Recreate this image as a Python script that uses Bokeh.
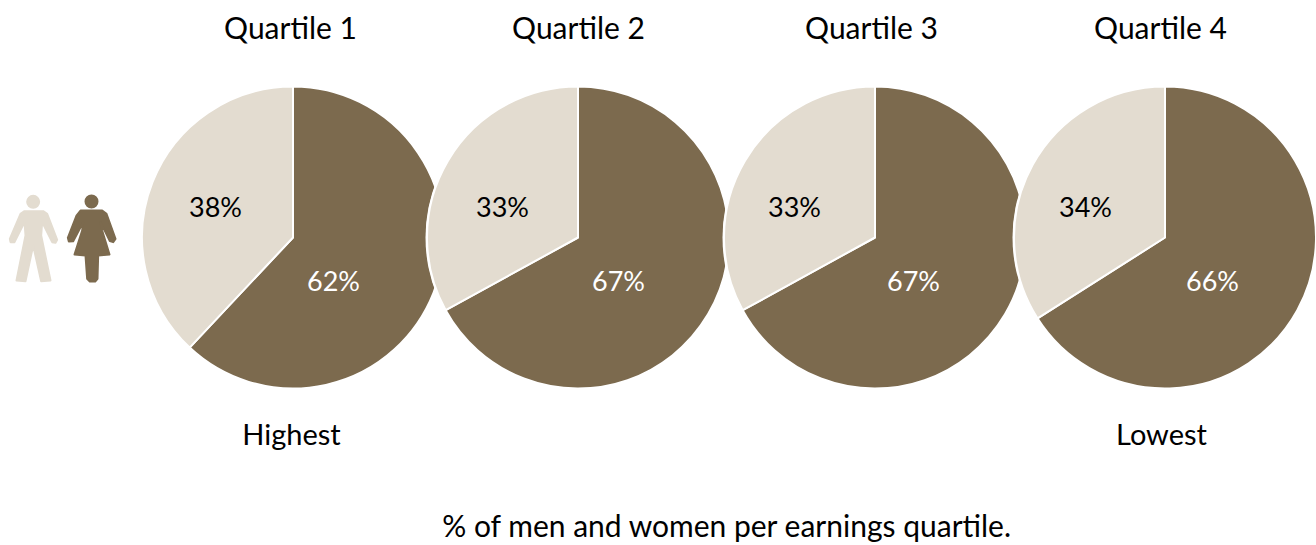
import math
from bokeh.plotting import figure
from bokeh.models import Range1d
from bokeh.core.properties import value
from bokeh.embed import file_html
from bokeh.resources import INLINE

quartiles = ["Quartile 1", "Quartile 2", "Quartile 3", "Quartile 4"]
women = [62, 67, 67, 66]
men = [38, 33, 33, 34]
end_labels = ["Highest", "Lowest"]
caption = "% of men and women per earnings quartile."

DARK = "#7C6A4E"
LIGHT = "#E3DCD0"
FONT = value("Lato")
W, H = 1316, 545

centers = [292.5, 577.5, 874.5, 1164.5]
title_x = [290, 578, 871, 1160]
women_label_x = [333, 618, 913, 1212]
men_label_x = [215, 502, 794, 1085]
CY, R = 237, 151

p = figure(width=W, height=H, output_backend="svg", toolbar_location=None,
           x_range=Range1d(0, W), y_range=Range1d(H, 0),
           min_border=0, outline_line_color=None, background_fill_color="white")
p.axis.visible = False
p.grid.visible = False

TOP = -math.pi / 2  # y axis is flipped: -90 degrees in screen terms is straight up

for cx, w, m in zip(centers, women, men):
    split = TOP + 2 * math.pi * w / 100
    p.circle(x=[cx], y=[CY], radius=R + 1.5, fill_color="white", line_color=None)
    p.wedge(x=[cx], y=[CY], radius=R, start_angle=[-TOP], end_angle=[-split], direction="clock",
            fill_color=DARK, line_color="white", line_width=2)
    p.wedge(x=[cx], y=[CY], radius=R, start_angle=[-split], end_angle=[-TOP - 2 * math.pi], direction="clock",
            fill_color=LIGHT, line_color="white", line_width=2)

p.text(x=women_label_x, y=[280] * 4, text=[f"{w}%" for w in women], text_font=FONT, text_font_size="27px",
       text_color="white", text_align="center", text_baseline="middle")
p.text(x=men_label_x, y=[206] * 4, text=[f"{m}%" for m in men], text_font=FONT, text_font_size="27px",
       text_color="black", text_align="center", text_baseline="middle")

p.text(x=title_x, y=[26] * 4, text=quartiles, text_font=FONT, text_font_size="30px",
       text_color="black", text_align="center", text_baseline="middle")
p.text(x=[291, 1161], y=[433, 433], text=end_labels, text_font=FONT, text_font_size="29px",
       text_color="black", text_align="center", text_baseline="middle")
p.text(x=[727], y=[524], text=[caption], text_font=FONT, text_font_size="30px",
       text_color="black", text_align="center", text_baseline="middle")

# pictograms, traced in a 3x crop whose origin is (0, 180)
man = [(72,92),(128,92),(140,100),(170,178),(165,187),(155,185),(125,125),(122,165),(150,300),(122,302),
       (98,195),(75,302),(48,300),(75,165),(72,125),(42,185),(30,185),(28,175),(60,100)]
woman = [(240,90),(305,90),(318,100),(345,175),(338,185),(328,182),(300,125),(305,150),(327,222),(293,225),
         (291,295),(284,303),(268,303),(260,295),(255,225),(222,222),(245,150),(248,125),(218,182),(205,183),(202,172),(228,105)]
for poly, head, col in [(man, (98, 64, 21), LIGHT), (woman, (273, 63, 21), DARK)]:
    p.patch([a / 3 for a, b in poly], [180 + b / 3 for a, b in poly], fill_color=col, line_color=col, line_join="round", line_width=2)
    p.circle(x=[head[0] / 3], y=[180 + head[1] / 3], radius=head[2] / 3, fill_color=col, line_color=None)

open("out.html", "w").write(file_html(p, INLINE))
